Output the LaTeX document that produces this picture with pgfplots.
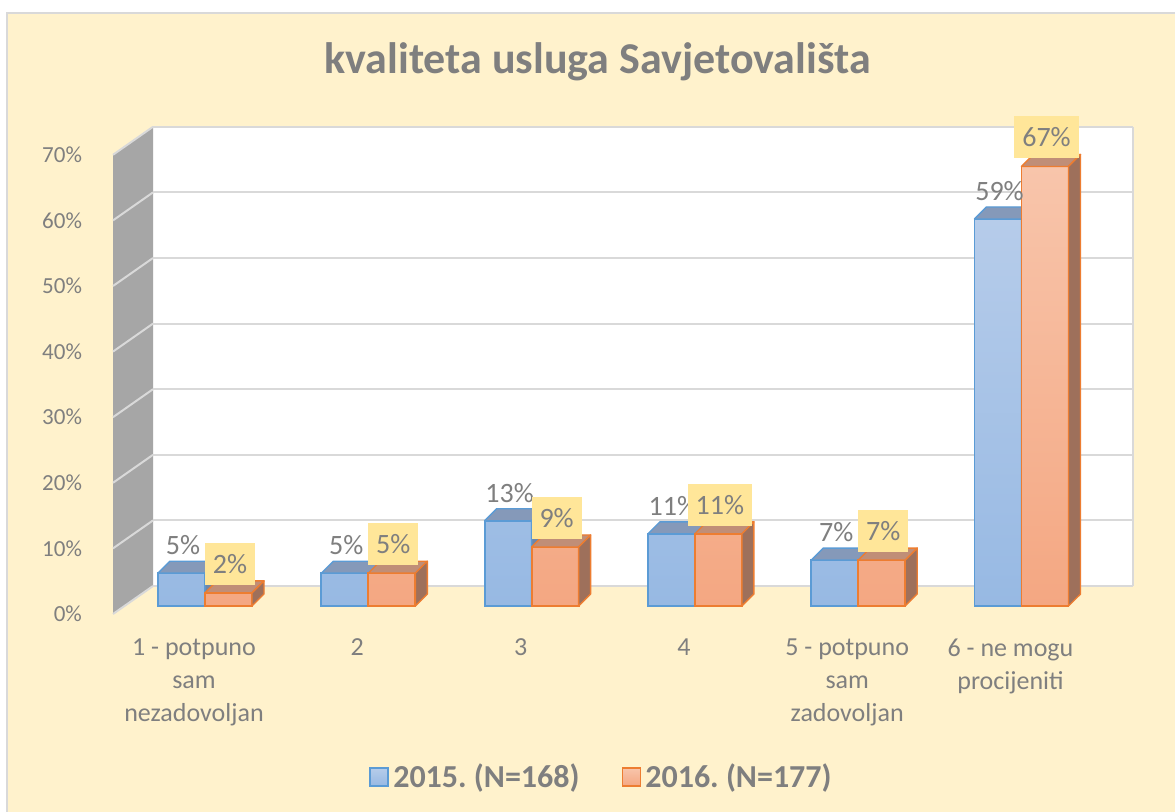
\documentclass[border=0pt]{standalone}
\usepackage{pgfplots}
\usepackage{pgfplotstable}
\usepackage{fontspec}
\pgfplotsset{compat=1.18}
\setmainfont{Carlito}
\frenchspacing

\definecolor{chartbg}{HTML}{FFF2CC}
\definecolor{chartborder}{HTML}{D9D9D9}
\definecolor{textgray}{HTML}{7F7F7F}
\definecolor{gridgray}{HTML}{D9D9D9}
\definecolor{sidewall}{HTML}{A6A6A6}
\definecolor{blueedge}{HTML}{5B9BD5}
\definecolor{bluehi}{HTML}{B6CCEA}
\definecolor{bluelo}{HTML}{97B9E3}
\definecolor{bluetop}{HTML}{8599B9}
\definecolor{blueside}{HTML}{6E86A8}
\definecolor{orangeedge}{HTML}{ED7D31}
\definecolor{orangehi}{HTML}{F8C5AB}
\definecolor{orangelo}{HTML}{F4A782}
\definecolor{orangetop}{HTML}{C08E77}
\definecolor{orangeside}{HTML}{9E705B}
\definecolor{labelfill}{HTML}{FFE699}

% share of answers (%), 2015 (a) and 2016 (b)
\pgfplotstableread{
idx a b
0 5 2
1 5 5
2 13 9
3 11 11
4 7 7
5 59 67
}\ratings

% bar geometry in axis units
\def\bw{0.2878}
\def\bs{0.1439}
\def\dx{0.0735}
\def\dy{1.829}

% top and right faces of a 3D bar: left x, value, top fill, side fill, edge
\newcommand\barfaces[5]{%
  \pgfmathsetmacro\xl{#1}%
  \pgfmathsetmacro\xr{#1+\bw}%
  \pgfmathsetmacro\xlb{#1+\dx}%
  \pgfmathsetmacro\xrb{#1+\bw+\dx}%
  \pgfmathsetmacro\yt{#2}%
  \pgfmathsetmacro\ytb{#2+\dy}%
  \addplot[forget plot, fill=#3, draw=#5, line width=0.7pt, line join=round]
    coordinates {(\xl,\yt) (\xr,\yt) (\xrb,\ytb) (\xlb,\ytb)} --cycle;
  \addplot[forget plot, fill=#4, draw=#5, line width=0.7pt, line join=round]
    coordinates {(\xr,0) (\xr,\yt) (\xrb,\ytb) (\xrb,\dy)} --cycle;
}

\begin{document}
\begin{tikzpicture}
\fill[white] (0,0) rectangle (587.5pt,406pt);
\fill[chartbg, draw=chartborder, line width=0.7pt] (3.5pt,-3pt) rectangle (591pt,399.5pt);
\begin{axis}[
    at={(0,0)}, anchor=south west,
    scale only axis,
    width=587.5pt, height=406pt,
    xmin=-1.2554, xmax=5.94,
    ymin=-31.40, ymax=92.38,
    clip=false,
    axis line style={draw=none},
    major tick length=0pt,
    tick style={draw=none},
    /pgf/number format/assume math mode=true,
    xtick={0,...,5},
    xticklabels={{1 - potpuno\\sam\\nezadovoljan},{2},{3},{4},{5 - potpuno\\sam\\zadovoljan},{6 - ne mogu\\procijeniti}},
    xticklabel style={align=center, anchor=north, text=textgray,
        font=\fontsize{13}{16.5}\selectfont, xshift=-5.5pt, yshift=90pt},
    ytick={0,10,...,70},
    yticklabel={\pgfmathprintnumber{\tick}\%},
    yticklabel style={anchor=east, text=textgray,
        font=\fontsize{11.5}{14}\selectfont, xshift=44.5pt, yshift=-4pt},
    legend style={at={(0.5128,0.0431)}, anchor=center, draw=none, fill=none,
        legend columns=2, text=textgray,
        font=\bfseries\fontsize{16}{19}\selectfont,
        /tikz/every even column/.append style={column sep=19pt}},
    legend image code/.code={\draw[#1] (0pt,-4.5pt) rectangle (9pt,4.5pt);},
]
% back wall and side wall
\fill[white] (-0.3184,3.049) rectangle (5.6828,73.049);
\fill[sidewall] (-0.5634,-1.2195) -- (-0.3184,3.049) -- (-0.3184,73.049) -- (-0.5634,68.7805) -- cycle;
\pgfplotsinvokeforeach{0,10,20,30,40,50,60,70}{
  \draw[gridgray, line width=1pt] (-0.3184,#1+3.049) -- (5.6828,#1+3.049);
  \draw[gridgray, line width=1pt] (-0.5634,#1-1.2195) -- (-0.3184,#1+3.049);
}
\draw[gridgray, line width=0.6pt] (5.6828,3.049) -- (5.6828,73.049);

% 2015
\addplot[ybar, bar width=\bw, bar shift=-\bs, draw=blueedge, line width=0.9pt,
    top color=bluehi, bottom color=bluelo] table[x=idx, y=a] {\ratings};
\addlegendentry{2015. (N=168)}
\pgfplotsinvokeforeach{0,...,5}{
  \pgfplotstablegetelem{#1}{a}\of\ratings
  \barfaces{#1-\bs-0.1439}{\pgfplotsretval}{bluetop}{blueside}{blueedge}
}

% 2016
\addplot[ybar, bar width=\bw, bar shift=\bs, draw=orangeedge, line width=0.9pt,
    top color=orangehi, bottom color=orangelo] table[x=idx, y=b] {\ratings};
\addlegendentry{2016. (N=177)}
\pgfplotsinvokeforeach{0,...,5}{
  \pgfplotstablegetelem{#1}{b}\of\ratings
  \barfaces{#1}{\pgfplotsretval}{orangetop}{orangeside}{orangeedge}
}

% data labels
\addplot[forget plot, draw=none, mark=none,
    nodes near coords={\pgfmathprintnumber{\pgfplotspointmeta}\%},
    nodes near coords style={anchor=center, yshift=14pt, xshift=0.75pt,
        text=textgray, font=\fontsize{14}{17}\selectfont}]
    table[x expr=\thisrow{idx}-\bs, y=a] {\ratings};
\addplot[forget plot, draw=none, mark=none,
    nodes near coords={\pgfmathprintnumber{\pgfplotspointmeta}\%},
    nodes near coords style={anchor=center, yshift=14.5pt, xshift=0.75pt,
        text=textgray, fill=labelfill, inner xsep=4pt, minimum height=21pt,
        font=\fontsize{14}{17}\selectfont}]
    table[x expr=\thisrow{idx}+\bs, y=b] {\ratings};

\node[text=textgray, font=\bfseries\fontsize{22}{26}\selectfont]
    at (rel axis cs:0.5085,0.9236) {kvaliteta usluga Savjetovališta};
\end{axis}
\pgfresetboundingbox
\useasboundingbox (0,0) rectangle (587.5pt,406pt);
\end{tikzpicture}
\end{document}
